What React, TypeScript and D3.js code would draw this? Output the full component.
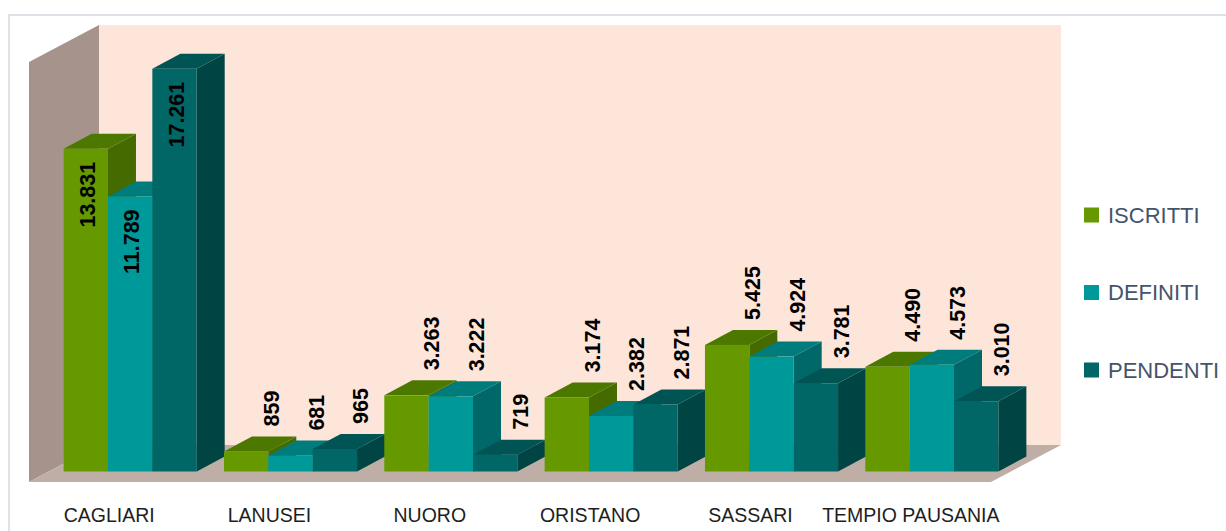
import React from 'react';
import * as d3 from 'd3';

const categories = ['CAGLIARI', 'LANUSEI', 'NUORO', 'ORISTANO', 'SASSARI', 'TEMPIO PAUSANIA'];
const seriesNames = ['ISCRITTI', 'DEFINITI', 'PENDENTI'];
const iscritti = [13831, 859, 3263, 3174, 5425, 4490];
const definiti = [11789, 681, 3222, 2382, 4924, 4573];
const pendenti = [17261, 965, 719, 2871, 3781, 3010];
const axisMax = 18000;

const seriesValues = [iscritti, definiti, pendenti];
const palette = [
  { front: '#669900', top: '#4d7800', side: '#456b00' },
  { front: '#009999', top: '#007c7c', side: '#006868' },
  { front: '#006666', top: '#005454', side: '#004444' },
];

const W = 1226;
const H = 531;
const X0 = 29;
const Y0 = 482;
const FLOOR_W = 962;
const DEPTH_DX = 70;
const DEPTH_DY = -37;
const WALL_H = 420;
const BAR_OFF_DX = 21;
const BAR_OFF_DY = -10.5;
const BAR_DX = 28;
const BAR_DY = -15;

const itFormat = d3.formatLocale({ decimal: ',', thousands: '.', grouping: [3], currency: ['', '€'] }).format(',d');

const pts = (p: number[][]) => p.map((q) => q.join(',')).join(' ');

export default function App() {
  const x = d3
    .scaleBand<string>()
    .domain(categories)
    .range([X0 + BAR_OFF_DX, X0 + BAR_OFF_DX + FLOOR_W])
    .paddingInner(0.17)
    .paddingOuter(0.085);
  const xs = d3.scaleBand<string>().domain(seriesNames).range([0, x.bandwidth()]);
  const h = d3.scaleLinear().domain([0, axisMax]).range([0, WALL_H]);
  const yBase = Y0 + BAR_OFF_DY;
  const font = "'Liberation Sans', Arial, sans-serif";

  const bars: { ci: number; si: number; x0: number; x1: number; top: number; v: number }[] = [];
  categories.forEach((c, ci) => {
    seriesNames.forEach((s, si) => {
      const v = seriesValues[si][ci];
      const x0 = (x(c) as number) + (xs(s) as number);
      bars.push({ ci, si, x0, x1: x0 + xs.bandwidth(), top: yBase - h(v), v });
    });
  });

  const legendY = d3.scalePoint<string>().domain(seriesNames).range([215, 370]);

  return (
    <svg width={W} height={H} style={{ position: 'absolute', left: 0, top: 0 }} xmlns="http://www.w3.org/2000/svg">
      <rect x={0} y={0} width={W} height={H} fill="#ffffff" />
      <rect x={9} y={15} width={1300} height={700} fill="none" stroke="#dde2e9" strokeWidth={2} />
      {/* back wall */}
      <rect x={X0 + DEPTH_DX} y={Y0 + DEPTH_DY - WALL_H} width={FLOOR_W} height={WALL_H} fill="#fde5d9" />
      {/* left wall */}
      <polygon
        points={pts([
          [X0, Y0],
          [X0, Y0 - WALL_H],
          [X0 + DEPTH_DX, Y0 + DEPTH_DY - WALL_H],
          [X0 + DEPTH_DX, Y0 + DEPTH_DY],
        ])}
        fill="#a6948c"
      />
      {/* floor */}
      <polygon
        points={pts([
          [X0, Y0],
          [X0 + FLOOR_W, Y0],
          [X0 + FLOOR_W + DEPTH_DX, Y0 + DEPTH_DY],
          [X0 + DEPTH_DX, Y0 + DEPTH_DY],
        ])}
        fill="#bfaea6"
      />
      {/* bars */}
      {bars.map((b, i) => {
        const col = palette[b.si];
        return (
          <g key={i}>
            <polygon
              points={pts([
                [b.x1, yBase],
                [b.x1, b.top],
                [b.x1 + BAR_DX, b.top + BAR_DY],
                [b.x1 + BAR_DX, yBase + BAR_DY],
              ])}
              fill={col.side}
            />
            <polygon
              points={pts([
                [b.x0, b.top],
                [b.x1, b.top],
                [b.x1 + BAR_DX, b.top + BAR_DY],
                [b.x0 + BAR_DX, b.top + BAR_DY],
              ])}
              fill={col.top}
            />
            <rect x={b.x0} y={b.top} width={b.x1 - b.x0} height={yBase - b.top} fill={col.front} />
          </g>
        );
      })}
      {/* value labels */}
      {bars.map((b, i) => {
        const cx = (b.x0 + b.x1) / 2;
        const inside = b.v > 10000;
        const lx = inside ? cx + 2 : cx + 26;
        const ly = inside ? b.top + 13 : b.top - 25;
        return (
          <text
            key={'l' + i}
            transform={`translate(${lx},${ly}) rotate(-90)`}
            textAnchor={inside ? 'end' : 'start'}
            dominantBaseline="central"
            fontFamily={font}
            fontWeight="bold"
            fontSize={21.5}
            fill="#000000"
          >
            {itFormat(b.v)}
          </text>
        );
      })}
      {/* category labels */}
      {categories.map((c) => (
        <text
          key={c}
          x={(x(c) as number) + x.bandwidth() / 2 - BAR_OFF_DX}
          y={522}
          textAnchor="middle"
          fontFamily={font}
          fontSize={19.5}
          fill="#1e1e1e"
        >
          {c}
        </text>
      ))}
      {/* legend */}
      {seriesNames.map((s, si) => (
        <g key={s}>
          <rect x={1084} y={(legendY(s) as number) - 7.5} width={15} height={15} fill={palette[si].front} />
          <text
            x={1108}
            y={legendY(s) as number}
            dominantBaseline="central"
            fontFamily={font}
            fontSize={22}
            fill="#44546a"
          >
            {s}
          </text>
        </g>
      ))}
    </svg>
  );
}
